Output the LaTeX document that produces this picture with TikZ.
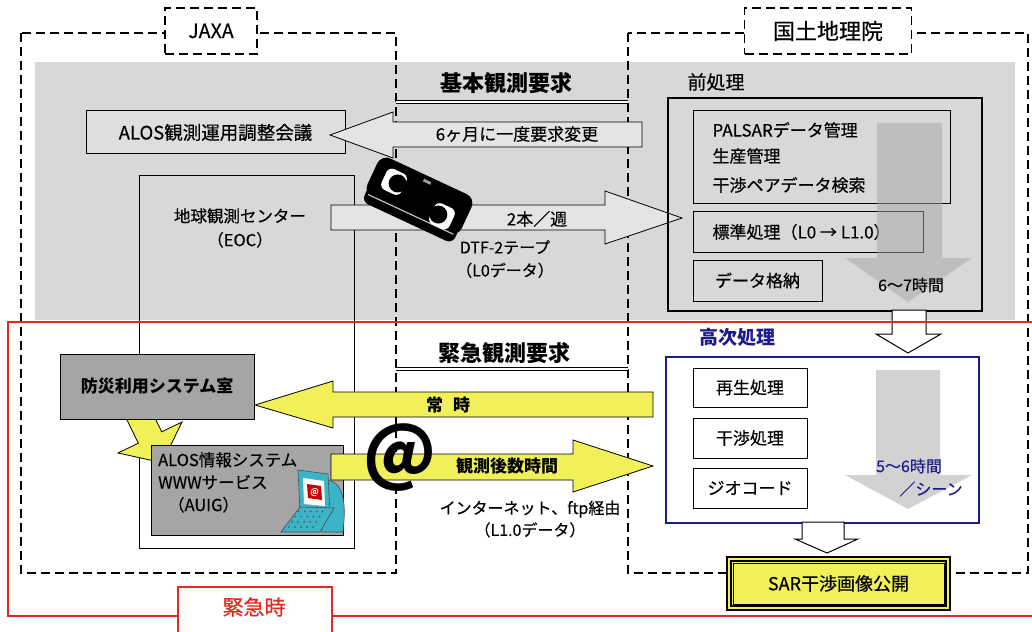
\documentclass[tikz,border=0pt]{standalone}
\usepackage{fontspec}
\setmainfont{Noto Sans CJK JP}[UprightFeatures={FakeBold=0.35}]
\definecolor{bandgray}{RGB}{216,216,216}
\definecolor{boxgray}{RGB}{165,165,165}
\definecolor{alertred}{RGB}{230,40,30}
\definecolor{navy}{RGB}{28,28,140}
\definecolor{lemon}{RGB}{240,240,88}
\definecolor{pcteal}{RGB}{60,180,200}

\begin{document}
\begin{tikzpicture}[x=1pt, y=-1pt, font=\fontsize{17}{20}\selectfont,
  region/.style={draw, line width=1.6pt, dash pattern=on 9pt off 5pt},
  box/.style={draw, line width=1pt, inner sep=0pt},
  fatarrow/.style={draw, line width=0.8pt, miter limit=20},
  hollowarrow/.style={draw, fill=white, line width=1pt, miter limit=20},
  timearrow/.style={fill=gray!70, fill opacity=0.5},
  heading/.style={font=\fontsize{22}{24}\selectfont\bfseries},
]
\useasboundingbox (0,0) rectangle (1032,631);
\clip (0,0) rectangle (1032,631);

% Gray band: routine processing
\fill[bandgray] (35,62) rectangle (1015,320);

% Organisations
\draw[region] (21,33) rectangle (396,573);
\draw[region] (628,33) rectangle (1028,573);
\node[region, fill=white, minimum width=92pt, minimum height=46pt, font=\fontsize{19.5}{20}\selectfont] (jaxa) at (211,31) {JAXA};
\node[region, fill=white, minimum width=167pt, minimum height=46pt, font=\fontsize{22}{24}\selectfont] (gsi) at (828,31) {国土地理院};

% JAXA side
\node[box, minimum width=215pt, minimum height=373pt, anchor=north west] (eoc) at (139,175) {};
\node[align=center, font=\fontsize{16.5}{24}\selectfont] (eocname) at (240,228) {地球観測センター\\（EOC）};
\node[box, fill=bandgray!85!white, minimum width=259pt, minimum height=43pt, font=\fontsize{18.5}{20}\selectfont] (alos) at (215.5,132.5) {ALOS観測運用調整会議};

% Basic observation request
\node[heading] (kihon) at (506,83) {基本観測要求};
\draw[double, line width=1.2pt, double distance=1.2pt] (396,102) -- (628,102);
\filldraw[fatarrow, fill=bandgray!70!white] (642,122) -- (393,122) -- (393,112) -- (330,135)
  -- (393,158) -- (393,147) -- (642,147) -- cycle;
\node (change) at (517,134) {6ヶ月に一度要求変更};

% Tape shipment
\filldraw[fatarrow, fill=bandgray!70!white] (331,205) -- (605,205) -- (605,191) -- (682,218)
  -- (605,244) -- (605,230) -- (331,230) -- cycle;
\node (weekly) at (537,219) {2本／週};
\node[align=center, font=\fontsize{16}{23}\selectfont] (tape) at (505,259) {DTF-2テープ\\（L0データ）};

% Cassette
\begin{scope}[shift={(418,199)}, rotate=-25]
  \fill[black, rounded corners=7pt] (-50,-12) rectangle (50,26);
  \fill[black, rounded corners=10pt] (-52,-25) rectangle (52,18);
  \draw[black!25, line width=1.2pt] (-47,17) -- (47,17);
  \fill[white, rounded corners=6pt] (-40,-17) rectangle (-18,6);
  \fill[black] (-25,-5.5) circle (9pt);
  \fill[white, rounded corners=6pt] (18,-6) rectangle (40,17);
  \fill[black] (25,5.5) circle (9pt);
  \fill[black!40] (-3,-21) rectangle (5,-18);
\end{scope}

% GSI pre-processing
\node[font=\fontsize{19}{20}\selectfont] (mae) at (716,82) {前処理};
\node[box, line width=1.8pt, minimum width=314pt, minimum height=213pt, anchor=north west] (maebox) at (667,97) {};
\node[box, fill=bandgray, minimum width=257pt, minimum height=93pt, anchor=north west] (palsarbox) at (693,110) {};
\node[anchor=west] (palsar) at (709,130) {PALSARデータ管理};
\node[anchor=west] (seisan) at (709,156) {生産管理};
\node[anchor=west] (pair) at (709,185) {干渉ペアデータ検索};
\node[box, fill=bandgray, minimum width=230pt, minimum height=41pt, anchor=north west] (hyojunbox) at (693,211) {};
\node[anchor=west] (hyojun) at (709,232) {標準処理（L0 → L1.0）};
\node[box, fill=bandgray, minimum width=129pt, minimum height=41pt] (kakuno) at (757.5,280.5) {データ格納};
\fill[timearrow] (877,123) -- (942,123) -- (942,258) -- (972,258) -- (908,302) -- (845,258)
  -- (877,258) -- cycle;
\node[font=\fontsize{16}{18}\selectfont] (maetime) at (911,285) {6〜7時間};

% Hand over to higher processing
\draw[hollowarrow] (892,310) -- (892,334) -- (876,334) -- (908,353) -- (941,334) -- (926,334)
  -- (926,310) -- cycle;

% Emergency frame
\draw[alertred, line width=2pt] (8,322) rectangle (1045,616);

% Higher processing
\node[text=navy, font=\fontsize{19}{20}\selectfont\bfseries] (koji) at (737,337) {高次処理};
\node[draw=navy, line width=2.4pt, minimum width=313pt, minimum height=166pt, anchor=north west] (kojibox) at (665,356) {};
\fill[gray!35] (876,370) -- (940,370) -- (940,475) -- (972,475) -- (908,509) -- (845,475)
  -- (876,475) -- cycle;
\node[box, fill=white, minimum width=114pt, minimum height=39pt] (saisei) at (750,387.5) {再生処理};
\node[box, fill=white, minimum width=114pt, minimum height=40pt] (kansho) at (750,438) {干渉処理};
\node[box, fill=white, minimum width=114pt, minimum height=40pt] (geocode) at (750,488) {ジオコード};
\node[text=navy, font=\fontsize{16}{18}\selectfont] (kojitime) at (909,466) {5〜6時間};
\node[text=navy, font=\fontsize{16}{18}\selectfont] (scene) at (931,489) {／シーン};
\draw[hollowarrow] (802,522) -- (802,539) -- (795,539) -- (827,553) -- (858,539) -- (844,539)
  -- (844,522) -- cycle;
\node[draw, line width=1.8pt, double=lemon, double distance=1.6pt, fill=lemon, minimum width=219pt,
  minimum height=49pt, font=\fontsize{18}{20}\selectfont] (sar) at (838.5,583.5) {SAR干渉画像公開};
\draw[line width=0.8pt] ([shift={(5,5)}]sar.north west) rectangle ([shift={(-5,-5)}]sar.south east);

% Emergency observation request
\node[heading] (kinkyu) at (504,353) {緊急観測要求};
\draw[double, line width=1.2pt, double distance=1.2pt] (396,369) -- (628,369);

% Disaster room and AUIG
\filldraw[fatarrow, fill=lemon] (144.2,395.8) -- (161.7,431.8) -- (182,422) -- (162.2,462.7)
  -- (118,453) -- (138.3,443.2) -- (120.8,407.2) -- cycle;
\node[box, fill=boxgray, minimum width=194pt, minimum height=65pt, font=\fontsize{17}{20}\selectfont\bfseries] (bosai) at (157,386.5) {防災利用システム室};
\node[box, fill=boxgray, minimum width=192pt, minimum height=90pt, anchor=north west] (auig) at (151,445) {};
\node[anchor=north west, align=left, font=\fontsize{16.5}{22.5}\selectfont, inner sep=0pt] (auigname) at (158,452)
  {ALOS情報システム\\WWWサービス\\\hspace{0.6em}（AUIG）};

% Routine delivery
\filldraw[fatarrow, fill=lemon] (653,392) -- (333,392) -- (333,381) -- (255,405) -- (333,428)
  -- (333,417) -- (653,417) -- cycle;
\node[font=\fontsize{17}{20}\selectfont\bfseries] (joji) at (448,405) {常\hspace{10pt}時};

% Internet delivery
\filldraw[fatarrow, fill=lemon] (331,454) -- (573,454) -- (573,440) -- (653,466) -- (573,492)
  -- (573,480) -- (331,480) -- cycle;
\node[font=\fontsize{17}{20}\selectfont\bfseries] (sujikan) at (507,466) {観測後数時間};
\node[inner sep=0pt, font=\fontsize{70}{70}\selectfont\bfseries] (atsign) at (400,458) {@};
\node[align=center, font=\fontsize{16}{22}\selectfont] (ftp) at (530,519) {インターネット、ftp経由\\（L1.0データ）};

% Terminal
\filldraw[fill=pcteal, draw=black!70, line width=0.6pt] (318,480) .. controls (346,476) and (346,505) .. (343,532) -- (322,532) -- cycle;
\filldraw[fill=pcteal, draw=black!70, line width=0.6pt] (298,470) -- (328,474) -- (330,514) -- (300,512) -- cycle;
\fill[white] (303,478) -- (324,481) -- (325,506) -- (304,504) -- cycle;
\fill[red!80!black] (307,484) -- (321,486) -- (322,500) -- (308,498) -- cycle;
\node[text=white, font=\fontsize{9}{9}\selectfont, inner sep=0pt] (screenat) at (314.5,492) {@};
\filldraw[fill=pcteal, draw=black!70, line width=0.6pt] (281,532) -- (320,532) -- (334,508) -- (300,507) -- cycle;
\foreach \r in {0,...,3}
  \foreach \c in {0,...,4}
    \fill[black!70] (289+\c*6+\r*3.2,527-\r*5.2) circle (0.9pt);

% Emergency label
\node[draw=alertred, line width=2pt, fill=white, minimum width=154pt, minimum height=56pt, anchor=north west] (kinkyuji) at (177,586) {};
\node[text=alertred, font=\fontsize{21}{22}\selectfont] (kinkyujitext) at (254,607) {緊急時};
\end{tikzpicture}
\end{document}
